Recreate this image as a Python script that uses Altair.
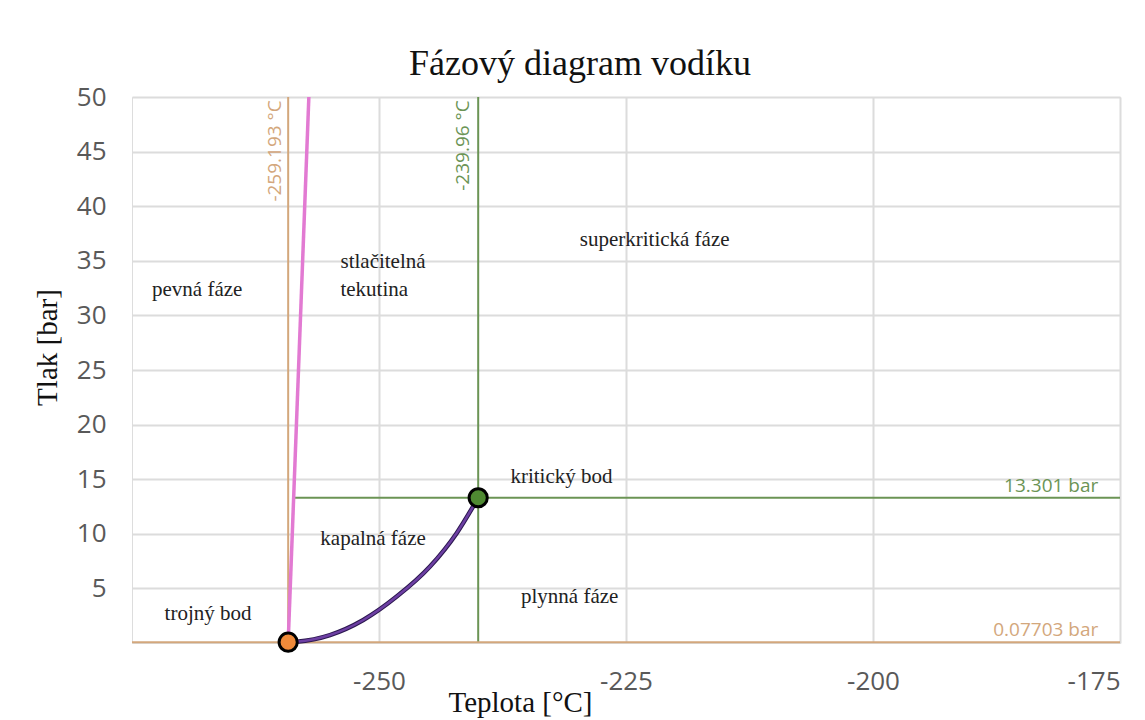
import altair as alt
import pandas as pd

# ---- data ----
triple_T, triple_p = -259.193, 0.07703
crit_T, crit_p = -239.96, 13.301

melt_T = [-259.193, -257.1]
melt_p = [0.07703, 50.0]

vap_T = [-259.193, -258.33, -254.96, -251.59, -248.21, -244.84, -242.14, -239.96]
vap_p = [0.07703, 0.12, 0.73, 2.11, 4.25, 7.0, 10.06, 13.301]

crit_line_T = [-258.5, -175.0]

label_text = ["pevná fáze", "stlačitelná", "tekutina", "superkritická fáze",
              "kritický bod", "kapalná fáze", "plynná fáze", "trojný bod"]
label_T = [-268.4, -253.9, -253.9, -222.1, -236.7, -250.6, -230.7, -267.3]
label_p = [32.3, 34.9, 32.3, 36.9, 15.2, 9.5, 4.2, 2.7]
label_align = ["center", "left", "left", "center", "left", "center", "center", "center"]

x_ticks = [-250, -225, -200, -175]
y_ticks = [5, 10, 15, 20, 25, 30, 35, 40, 45, 50]

XDOM = [-275, -175]
YDOM = [0, 50]

TAN = "#d3a77c"
GREEN = "#6b9455"
PINK = "#e27ad2"
PURPLE = "#6d3fa3"
SERIF = "Liberation Serif"
SANS = "Open Sans"

xs = alt.Scale(domain=XDOM, nice=False, zero=False)
ys = alt.Scale(domain=YDOM, nice=False, zero=False)

xax = alt.Axis(values=x_ticks, title="Teplota [°C]", grid=True, ticks=False, domain=False,
               labelExpr="toString(datum.value)",
               labelFont=SANS, labelFontSize=26, labelColor="#595959", labelPadding=25,
               gridColor="#dcdcdc", gridWidth=2,
               titleFont=SERIF, titleFontSize=29, titleFontWeight="normal", titleColor="#111111",
               titleX=388, titleY=68, titleAlign="center", titleBaseline="alphabetic")
yax = alt.Axis(values=y_ticks, title="Tlak [bar]", grid=True, ticks=False, domain=False,
               labelExpr="toString(datum.value)",
               labelFont=SANS, labelFontSize=26, labelColor="#595959", labelPadding=26,
               gridColor="#dcdcdc", gridWidth=2,
               titleFont=SERIF, titleFontSize=29, titleFontWeight="normal", titleColor="#111111",
               titleX=-85, titleY=250, titleAngle=270, titleAlign="center", titleBaseline="middle")

base_df = pd.DataFrame({"T": [XDOM[0]], "p": [YDOM[0]]})
axes_layer = alt.Chart(base_df).mark_point(opacity=0).encode(
    x=alt.X("T:Q", scale=xs, axis=xax),
    y=alt.Y("p:Q", scale=ys, axis=yax),
)

# vertical reference lines
vline_df = pd.DataFrame({"T": [triple_T, crit_T], "c": [TAN, GREEN]})
vlines = alt.Chart(vline_df).mark_rule(strokeWidth=2).encode(
    x=alt.X("T:Q", scale=xs), color=alt.Color("c:N", scale=None)
)

# horizontal reference lines
hl_tan = alt.Chart(pd.DataFrame({"p": [triple_p]})).mark_rule(strokeWidth=2, color=TAN).encode(
    y=alt.Y("p:Q", scale=ys)
)
hl_green = alt.Chart(pd.DataFrame({"T": [crit_line_T[0]], "T2": [crit_line_T[1]], "p": [crit_p]})).mark_rule(
    strokeWidth=2, color=GREEN).encode(
    x=alt.X("T:Q", scale=xs), x2="T2:Q", y=alt.Y("p:Q", scale=ys)
)

melt_df = pd.DataFrame({"T": melt_T, "p": melt_p})
melt = alt.Chart(melt_df).mark_line(color=PINK, strokeWidth=3.5).encode(
    x=alt.X("T:Q", scale=xs), y=alt.Y("p:Q", scale=ys)
)

vap_df = pd.DataFrame({"T": vap_T, "p": vap_p, "o": list(range(len(vap_T)))})
vap_under = alt.Chart(vap_df).mark_line(color="#2c1850", strokeWidth=4.5, interpolate="monotone").encode(
    x=alt.X("T:Q", scale=xs), y=alt.Y("p:Q", scale=ys), order="o:Q"
)
vap = alt.Chart(vap_df).mark_line(color=PURPLE, strokeWidth=2.5, interpolate="monotone").encode(
    x=alt.X("T:Q", scale=xs), y=alt.Y("p:Q", scale=ys), order="o:Q"
)

pts_df = pd.DataFrame({"T": [triple_T, crit_T], "p": [triple_p, crit_p], "c": ["#f08a3a", "#4f8a32"]})
pts = alt.Chart(pts_df).mark_point(filled=True, size=330, stroke="black", strokeWidth=3, opacity=1).encode(
    x=alt.X("T:Q", scale=xs), y=alt.Y("p:Q", scale=ys),
    fill=alt.Color("c:N", scale=None)
)

lab_df = pd.DataFrame({"t": label_text, "T": label_T, "p": label_p, "a": label_align})
labs_c = alt.Chart(lab_df[lab_df.a == "center"]).mark_text(
    font=SERIF, fontSize=21, color="#222222", align="center", baseline="middle").encode(
    x=alt.X("T:Q", scale=xs), y=alt.Y("p:Q", scale=ys), text="t:N")
labs_l = alt.Chart(lab_df[lab_df.a == "left"]).mark_text(
    font=SERIF, fontSize=21, color="#222222", align="left", baseline="middle").encode(
    x=alt.X("T:Q", scale=xs), y=alt.Y("p:Q", scale=ys), text="t:N")

bar_df = pd.DataFrame({"t": ["13.301 bar", "0.07703 bar"], "T": [-177.2, -177.2],
                       "p": [14.4, 1.2], "c": [GREEN, TAN]})
bar_labs = alt.Chart(bar_df).mark_text(font=SANS, fontSize=19, align="right", baseline="middle").encode(
    x=alt.X("T:Q", scale=xs), y=alt.Y("p:Q", scale=ys), text="t:N",
    color=alt.Color("c:N", scale=None))

deg_df = pd.DataFrame({"t": ["-259.193 °C", "-239.96 °C"], "T": [-260.5, -241.5],
                       "p": [49.7, 49.7], "c": [TAN, GREEN]})
deg_labs = alt.Chart(deg_df).mark_text(font=SANS, fontSize=19, align="right", baseline="middle",
                                       angle=270).encode(
    x=alt.X("T:Q", scale=xs), y=alt.Y("p:Q", scale=ys), text="t:N",
    color=alt.Color("c:N", scale=None))

chart = alt.layer(
    axes_layer, vlines, hl_tan, hl_green, melt, vap_under, vap, pts,
    labs_c, labs_l, bar_labs, deg_labs
).properties(
    width=988, height=546,
    title=alt.TitleParams("Fázový diagram vodíku", font=SERIF, fontSize=36, fontWeight="normal",
                          color="#111111", anchor="middle", dx=-46, offset=1),
    autosize=alt.AutoSizeParams(type="none"),
    padding={"left": 124, "top": 89, "right": 12, "bottom": 76},
).configure_view(
    stroke="#c4c4c4", strokeWidth=2
).configure(background="white")

chart.save("out.html", embed_options={"renderer": "svg", "actions": False})
